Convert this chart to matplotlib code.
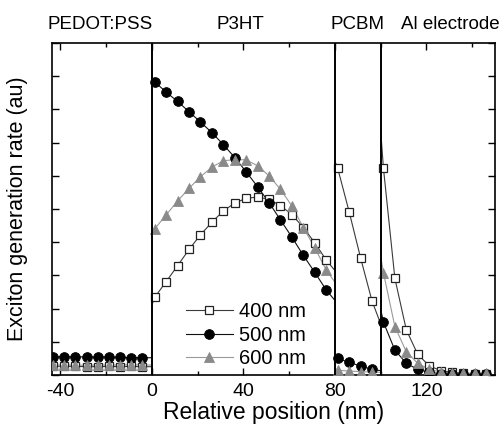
import matplotlib
matplotlib.use("Agg")
import matplotlib.pyplot as plt
from matplotlib.lines import Line2D
from matplotlib.ticker import MultipleLocator, FixedLocator

plt.rcParams['font.family'] = ['Liberation Sans', 'DejaVu Sans']

# ---------------- data ----------------
wavelengths = ["400 nm", "500 nm", "600 nm"]

# PEDOT:PSS layer
x_pedot = [-43.0, -38.2, -33.4, -28.5, -23.7, -18.9, -14.0, -9.2, -4.4]
pedot_400 = [0.27, 0.26, 0.26, 0.25, 0.25, 0.26, 0.25, 0.26, 0.25]
pedot_500 = [0.55, 0.55, 0.55, 0.54, 0.54, 0.54, 0.53, 0.52, 0.52]
pedot_600 = [0.30, 0.30, 0.30, 0.29, 0.30, 0.30, 0.30, 0.31, 0.30]
pedot_edge_x = [None, 0.0]
pedot_edges = {"400 nm": [None, 0.25], "500 nm": [None, 0.52], "600 nm": [None, 0.30]}

# P3HT layer
x_p3ht = [1.25, 6.25, 11.25, 16.25, 21.25, 26.25, 31.25, 36.25,
          41.25, 46.25, 51.25, 56.25, 61.25, 66.25, 71.25, 76.25]
p3ht_400 = [2.34, 2.81, 3.29, 3.78, 4.22, 4.60, 4.94, 5.18,
            5.32, 5.36, 5.29, 5.10, 4.83, 4.44, 3.98, 3.46]
p3ht_500 = [8.83, 8.52, 8.24, 7.93, 7.62, 7.30, 6.94, 6.55,
            6.12, 5.67, 5.19, 4.67, 4.15, 3.60, 3.09, 2.56]
p3ht_600 = [4.40, 4.82, 5.24, 5.62, 5.97, 6.26, 6.45, 6.49,
            6.48, 6.30, 6.00, 5.59, 5.09, 4.44, 3.83, 3.16]
p3ht_edge_x = [0.0, 80.0]
p3ht_edges = {"400 nm": [2.1, 3.15], "500 nm": [9.0, 2.25], "600 nm": [4.2, 2.8]}

# PCBM layer
x_pcbm = [81.25, 86.25, 91.25, 96.25]
pcbm_400 = [6.23, 4.92, 3.53, 2.23]
pcbm_500 = [0.50, 0.38, 0.27, 0.17]
pcbm_600 = [0.14, 0.12, 0.10, 0.09]
pcbm_edge_x = [80.0, 100.0]
pcbm_edges = {"400 nm": [6.45, 1.55], "500 nm": [0.55, 0.13], "600 nm": [0.16, 0.08]}

# Al electrode
x_al = [101.25, 106.25, 111.25, 116.25, 121.25, 126.25, 131.25, 136.25, 141.25, 146.25]
al_400 = [6.23, 2.91, 1.36, 0.62, 0.28, 0.13, 0.08, 0.05, 0.04, 0.04]
al_500 = [1.59, 0.75, 0.35, 0.17, 0.08, 0.04, 0.03, 0.02, 0.02, 0.02]
al_600 = [3.08, 1.46, 0.70, 0.35, 0.17, 0.09, 0.06, 0.05, 0.05, 0.05]
al_edge_x = [100.0, None]
al_edges = {"400 nm": [7.4, None], "500 nm": [2.0, None], "600 nm": [3.6, None]}

interfaces = [0, 80, 100]
layer_names = ["PEDOT:PSS", "P3HT", "PCBM", "Al electrode"]
layer_label_x = [-22.4, 38.5, 90.0, 130.3]
x_tick_labels = ["-40", "0", "40", "80", "120"]

# ---------------- styles ----------------
styles = {
    "400 nm": dict(color="#3a3a3a", lw=0.8, marker="s", ms=6.0, mfc="white",
                   mec="#222222", mew=0.9),
    "500 nm": dict(color="#111111", lw=0.8, marker="o", ms=7.0, mfc="black",
                   mec="black", mew=0.6),
    "600 nm": dict(color="#9a9a9a", lw=0.8, marker="^", ms=7.4, mfc="#8a8a8a",
                   mec="#8a8a8a", mew=0.6),
}

layers = [
    (x_pedot, {"400 nm": pedot_400, "500 nm": pedot_500, "600 nm": pedot_600}, pedot_edge_x, pedot_edges),
    (x_p3ht, {"400 nm": p3ht_400, "500 nm": p3ht_500, "600 nm": p3ht_600}, p3ht_edge_x, p3ht_edges),
    (x_pcbm, {"400 nm": pcbm_400, "500 nm": pcbm_500, "600 nm": pcbm_600}, pcbm_edge_x, pcbm_edges),
    (x_al, {"400 nm": al_400, "500 nm": al_500, "600 nm": al_600}, al_edge_x, al_edges),
]

fig = plt.figure(figsize=(5.03, 4.29), dpi=100)
ax = fig.add_axes([0.104, 0.1259, 0.880, 0.7739])

order = ["400 nm", "500 nm", "600 nm"]
for xs, ys_by_w, edge_x, edges in layers:
    for k, w in enumerate(order):
        xs_full, ys_full = [], []
        if edge_x[0] is not None:
            xs_full.append(edge_x[0]); ys_full.append(edges[w][0])
        start = len(xs_full)
        xs_full += list(xs); ys_full += list(ys_by_w[w])
        stop = len(xs_full)
        if edge_x[1] is not None:
            xs_full.append(edge_x[1]); ys_full.append(edges[w][1])
        st = styles[w]
        ax.plot(xs_full, ys_full, color=st["color"], lw=st["lw"], zorder=2 + 0.1 * k)
        ax.plot(xs_full[start:stop], ys_full[start:stop], ls="none",
                marker=st["marker"], ms=st["ms"], mfc=st["mfc"], mec=st["mec"],
                mew=st["mew"], zorder=3 + 0.1 * k)

for xi in interfaces:
    ax.axvline(xi, color="black", lw=1.4, zorder=4)

ax.set_xlim(-43.5, 150)
ax.set_ylim(0, 10)

ax.xaxis.set_major_locator(FixedLocator([-40, 0, 40, 80, 120]))
ax.set_xticklabels(x_tick_labels)
ax.xaxis.set_minor_locator(FixedLocator([-20, 20, 60, 100, 140]))
ax.yaxis.set_major_locator(MultipleLocator(1))
ax.set_yticklabels([])
ax.tick_params(axis="both", which="major", direction="in", length=5, width=1.0,
               top=True, right=True, labelsize=14, pad=5.5)
ax.tick_params(axis="both", which="minor", direction="in", length=3, width=1.0,
               top=True, right=True)
for sp in ax.spines.values():
    sp.set_linewidth(1.2)

ax.set_xlabel("Relative position (nm)", fontsize=16.5, labelpad=1)
ax.set_ylabel("Exciton generation rate (au)", fontsize=15.5, labelpad=12)

for name, lx in zip(layer_names, layer_label_x):
    ax.text(lx, 1.057, name, transform=ax.get_xaxis_transform(), ha="center",
            va="center", fontsize=13.5)

handles = [Line2D([], [], **styles[w]) for w in wavelengths]
ax.legend(handles, wavelengths, loc="center", bbox_to_anchor=(0.4375, 0.12),
          frameon=False, fontsize=14.5, handlelength=2.3, handletextpad=0.3,
          labelspacing=0.22, borderpad=0, numpoints=1)

fig.savefig("out.png", dpi=100)
